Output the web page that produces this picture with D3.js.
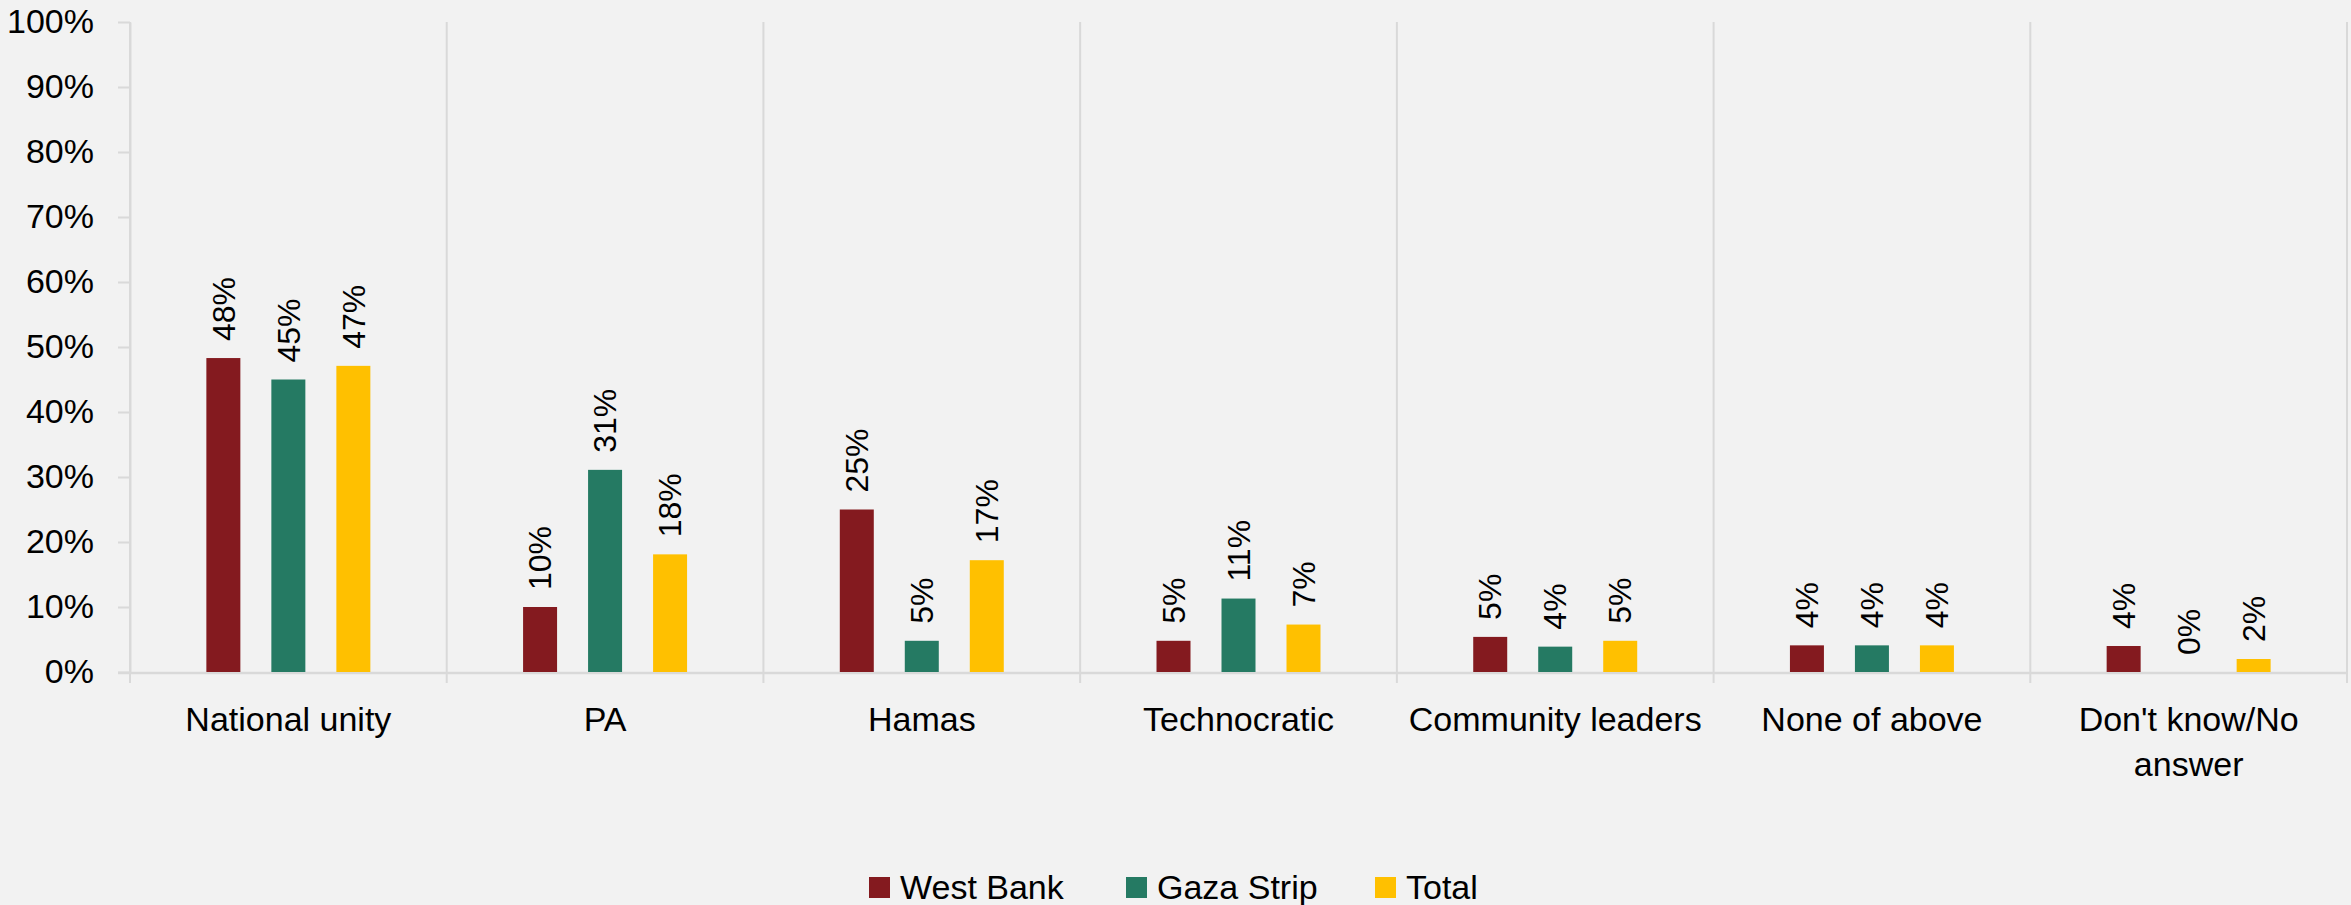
<!DOCTYPE html>
<html>
<head>
<meta charset="utf-8">
<script src="https://cdn.jsdelivr.net/npm/d3@7"></script>
<style>
  html, body { margin: 0; padding: 0; background: #f2f2f2; }
  svg { display: block; }
  text { font-family: "Liberation Sans", Arial, sans-serif; fill: #000; }
</style>
</head>
<body>
<svg id="chart" width="2351" height="905"></svg>
<script>
const categories = ["National unity", "PA", "Hamas", "Technocratic", "Community leaders", "None of above", "Don't know/No answer"];
const seriesNames = ["West Bank", "Gaza Strip", "Total"];
const westBank = [48.3, 10, 25, 4.8, 5.4, 4.1, 4.0];
const gazaStrip = [45, 31.1, 4.8, 11.3, 3.9, 4.1, 0];
const total = [47.1, 18.1, 17.2, 7.3, 4.8, 4.1, 2.0];
const valueLabels = {
  "West Bank": ["48%", "10%", "25%", "5%", "5%", "4%", "4%"],
  "Gaza Strip": ["45%", "31%", "5%", "11%", "4%", "4%", "0%"],
  "Total": ["47%", "18%", "17%", "7%", "5%", "4%", "2%"]
};
const yTicks = [0, 10, 20, 30, 40, 50, 60, 70, 80, 90, 100];
const colors = ["#841a1f", "#257a63", "#ffc000"];

const seriesValues = [westBank, gazaStrip, total];

(function () {
const svg = d3.select("#chart");
const mLeft = 130, mRight = 2347, mTop = 22, mBottom = 672;

const x0 = d3.scaleBand().domain(categories).range([mLeft, mRight]).padding(0);
const x1 = d3.scaleBand().domain(seriesNames).range([0, x0.bandwidth()])
  .paddingInner(0.477).paddingOuter(1.175);
const y = d3.scaleLinear().domain([0, 100]).range([mBottom, mTop]);
const color = d3.scaleOrdinal().domain(seriesNames).range(colors);

// vertical category separators
const seps = categories.map(c => x0(c)).concat([mRight]);
svg.append("g").selectAll("line").data(seps).join("line")
  .attr("x1", d => d).attr("x2", d => d)
  .attr("y1", mTop).attr("y2", mBottom + 11)
  .attr("stroke", "#d9d9d9").attr("stroke-width", 2);

// y axis
const yAxis = svg.append("g").attr("transform", `translate(${mLeft},0)`)
  .call(d3.axisLeft(y).tickValues(yTicks).tickFormat(d => d + "%").tickSize(12).tickSizeOuter(0).tickPadding(24));
yAxis.select(".domain").attr("stroke", "#d9d9d9").attr("stroke-width", 2);
yAxis.selectAll(".tick line").attr("stroke", "#d9d9d9").attr("stroke-width", 2);
yAxis.selectAll(".tick text").attr("font-size", 34).attr("font-family", "Liberation Sans").attr("fill", "#000");

// bottom axis line
svg.append("line").attr("x1", mLeft - 12).attr("x2", mRight)
  .attr("y1", y(0) + 1).attr("y2", y(0) + 1)
  .attr("stroke", "#d9d9d9").attr("stroke-width", 2.5);

// bars
const data = [];
categories.forEach((c, i) => {
  seriesNames.forEach((s, j) => {
    data.push({ cat: c, series: s, value: seriesValues[j][i], label: valueLabels[s][i] });
  });
});

svg.append("g").selectAll("rect").data(data).join("rect")
  .attr("x", d => x0(d.cat) + x1(d.series))
  .attr("width", x1.bandwidth())
  .attr("y", d => y(d.value))
  .attr("height", d => y(0) - y(d.value))
  .attr("fill", d => color(d.series));

// value labels
svg.append("g").selectAll("text").data(data).join("text")
  .attr("transform", d => `translate(${x0(d.cat) + x1(d.series) + x1.bandwidth() / 2},${y(d.value) - 17}) rotate(-90)`)
  .attr("text-anchor", "start")
  .attr("dy", "0.35em")
  .attr("font-size", 32)
  .text(d => d.label);

// category labels
const xAxis = svg.append("g").attr("transform", `translate(0,${mBottom})`)
  .call(d3.axisBottom(x0).tickSize(0).tickPadding(0));
xAxis.select(".domain").remove();
xAxis.selectAll(".tick text").each(function (d) {
  const t = d3.select(this);
  t.text(null).attr("y", 0).attr("dy", null)
    .attr("font-size", 34).attr("font-family", "Liberation Sans").attr("fill", "#000");
  const lines = d === "Don't know/No answer" ? ["Don't know/No", "answer"] : [d];
  lines.forEach((ln, k) => {
    t.append("tspan").attr("x", 0).attr("y", 59 + k * 45).text(ln);
  });
});

// legend
const legendX = [869, 1126, 1375];
const lg = svg.append("g").selectAll("g").data(seriesNames).join("g")
  .attr("transform", (d, i) => `translate(${legendX[i]},877)`);
lg.append("rect").attr("width", 21).attr("height", 21).attr("fill", d => color(d));
lg.append("text").attr("x", 31).attr("y", 22).attr("font-size", 34).text(d => d);
})();
</script>
</body>
</html>
